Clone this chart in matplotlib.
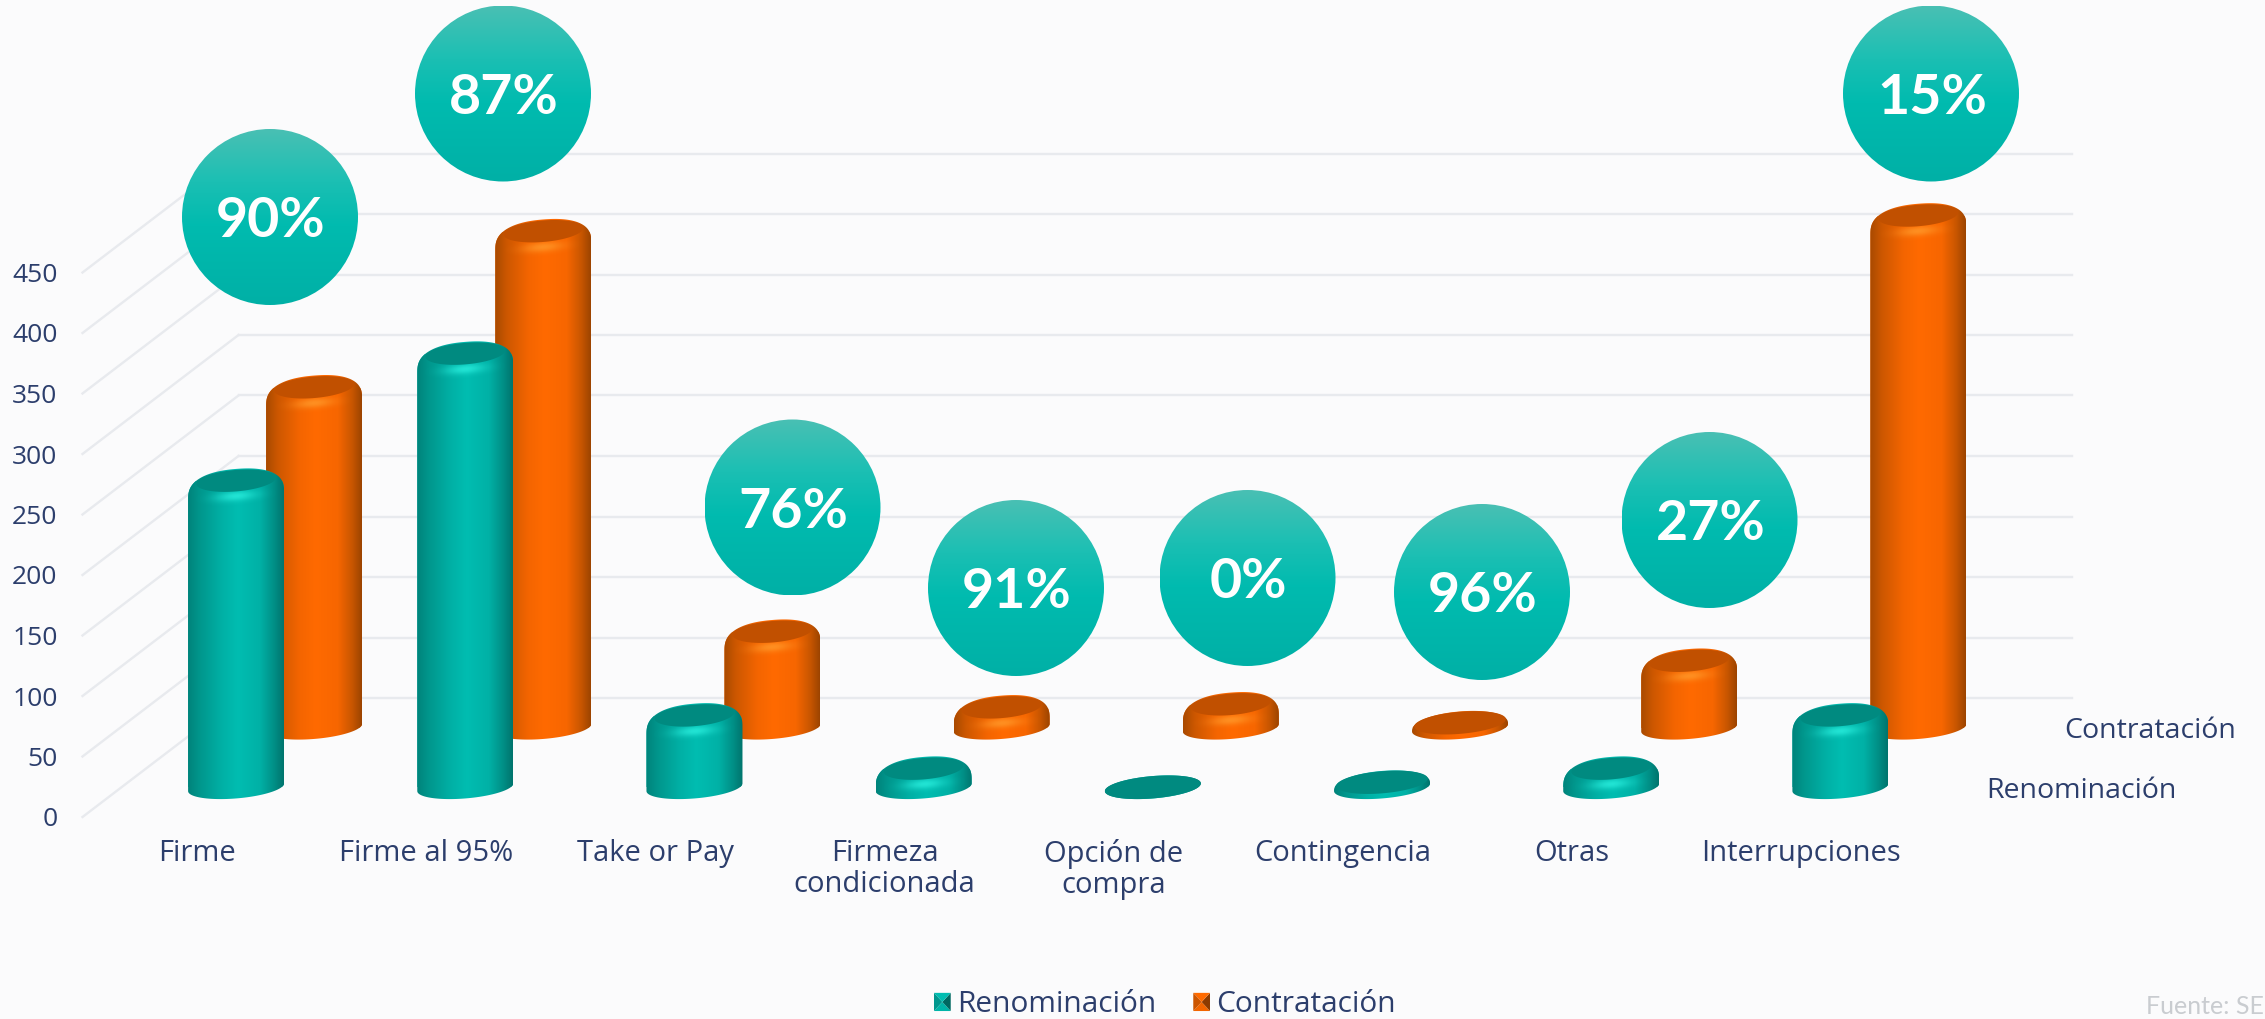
import numpy as np
import matplotlib
matplotlib.use("Agg")
import matplotlib.pyplot as plt
from matplotlib.colors import LinearSegmentedColormap, to_rgb
from matplotlib.patches import Patch, Polygon, Circle
from matplotlib.path import Path
from matplotlib.legend_handler import HandlerBase

# ---------- data ----------
categories = ["Firme", "Firme al 95%", "Take or Pay", "Firmeza\ncondicionada",
              "Opción de\ncompra", "Contingencia", "Otras", "Interrupciones"]
renominacion = [253, 358, 59, 15, 0, 4, 15, 59]
contratacion = [281, 410, 79, 16.5, 19, 4, 55, 423]
percent_labels = ["90%", "87%", "76%", "91%", "0%", "96%", "27%", "15%"]
y_ticks = [0, 50, 100, 150, 200, 250, 300, 350, 400, 450]
series_names = ["Renominación", "Contratación"]
source_text = "Fuente: SE"

# ---------- layout (pixels of the 2265x1019 picture) ----------
W, H = 2265, 1019
AX_L, AX_R, AX_B, AX_T = 82.5, 1916.0, 817.0, 272.5
PX_X = (AX_R - AX_L) / 8.0           # pixels per category
PX_Y = (AX_B - AX_T) / 450.0         # pixels per value unit
DEPTH_PX = (156.0, 119.0)            # floor depth on the picture
bubble_x_px = [270, 503, 792.5, 1016, 1247.5, 1482, 1709.5, 1931]
bubble_y_px = [217, 93.5, 507.5, 588, 578, 592, 520, 93.5]
BUBBLE_R = 88.0
A, B, SHEAR = 48.0, 11.2, 0.08       # cylinder half width / half height / tilt

BG = "#fbfbfc"
TXT = "#2c3e6c"
GRID = "#e8eaee"
plt.rcParams["font.family"] = ["Open Sans", "DejaVu Sans"]
FS = 20.5

fig = plt.figure(figsize=(W / 100, H / 100), dpi=100, facecolor=BG)
ax = fig.add_axes([AX_L / W, 1 - AX_B / H, (AX_R - AX_L) / W, (AX_B - AX_T) / H])
ax.set_facecolor("none")
for s in ax.spines.values():
    s.set_visible(False)

DX, DY = DEPTH_PX[0] / PX_X, DEPTH_PX[1] / PX_Y
x_pos = np.arange(len(categories))

# grid: back wall and side wall
for v in y_ticks:
    ax.plot([-0.5 + DX, 7.5 + DX], [v + DY, v + DY], color=GRID, lw=1.7, clip_on=False, zorder=1)
    ax.plot([-0.5, -0.5 + DX], [v, v + DY], color=GRID, lw=1.7, clip_on=False, zorder=1)

STYLES = {
    "teal": dict(
        cmap=LinearSegmentedColormap.from_list("t", [(0, "#00837b"), (0.12, "#00968c"), (0.35, "#00b0a5"),
                                                     (0.52, "#00bdb1"), (0.75, "#00b1a6"), (0.9, "#008f86"),
                                                     (1, "#00746d")]),
        top="#008a80", glow="#30f5e4", base="#00b0a5"),
    "orange": dict(
        cmap=LinearSegmentedColormap.from_list("o", [(0, "#a84a00"), (0.12, "#cc5700"), (0.35, "#f46500"),
                                                     (0.52, "#ff6a00"), (0.75, "#f76600"), (0.9, "#c85600"),
                                                     (1, "#9c4400")]),
        top="#c15000", glow="#ffa030", base="#f46500"),
}


def to_data(cx, base, px, py):
    return np.column_stack([cx + np.asarray(px) / PX_X, base + np.asarray(py) / PX_Y])


def silhouette(cx, base, h_px):
    R = min(15.0, h_px * 0.85)
    f = R / 15.0
    p = 1 - 0.28 * f
    q = 1 - 0.12 * f
    t1 = np.linspace(np.pi, 2 * np.pi, 60)
    bx = A * np.cos(t1)
    by = SHEAR * bx + B * np.sin(t1)
    t2 = np.linspace(0, np.pi, 90)
    c, s = np.cos(t2), np.sin(t2)
    tx = A * np.sign(c) * np.abs(c) ** q
    ty = h_px - R + SHEAR * tx + (B + R + f) * np.abs(s) ** p
    pts = to_data(cx, base, np.r_[bx, tx], np.r_[by, ty])
    return Path(np.vstack([pts, pts[0]]), closed=True), R


def draw_series(values, depth, style, z0, label):
    st = STYLES[style]
    bars = ax.bar(x_pos + depth * DX, values, bottom=depth * DY, width=2 * A / PX_X,
                  color=st["base"], clip_on=False, zorder=z0, label=label)
    for i, (v, bar) in enumerate(zip(values, bars)):
        cx, base = i + depth * DX, depth * DY
        h_px = v * PX_Y
        path, R = silhouette(cx, base, h_px)
        f = R / 15.0
        bar.set_clip_on(True)
        bar.set_clip_box(fig.bbox)
        bar.set_clip_path(path, ax.transData)
        # body: horizontal shading
        left, right = cx - A / PX_X, cx + A / PX_X
        low, high = base - 20 / PX_Y, base + (h_px + 20) / PX_Y
        im = ax.imshow(np.linspace(0, 1, 256).reshape(1, -1), cmap=st["cmap"], aspect="auto",
                       extent=[left, right, low, high], zorder=z0 + 0.1 + i * 0.01,
                       interpolation="bilinear")
        im.set_clip_box(fig.bbox)
        im.set_clip_path(path, ax.transData)
        # glow under the cap
        if R > 2:
            gx = np.linspace(-A, A, 120)
            gy = np.linspace(-14, 14, 60)
            X, Y = np.meshgrid(gx, gy)
            alpha = 0.7 * np.exp(-(X / 20.0) ** 2 - ((Y - SHEAR * X) / 5.0) ** 2) * f
            rgba = np.zeros(alpha.shape + (4,))
            rgba[..., :3] = to_rgb(st["glow"])
            rgba[..., 3] = alpha
            gc = h_px - 1.0 * R
            im2 = ax.imshow(rgba, aspect="auto", origin="lower",
                            extent=[left, right, base + (gc - 14) / PX_Y, base + (gc + 14) / PX_Y],
                            zorder=z0 + 0.2 + i * 0.01, interpolation="bilinear")
            im2.set_clip_box(fig.bbox)
            im2.set_clip_path(path, ax.transData)
        # top face
        k = 1 - 0.17 * f
        a_in, b_in = A * k, B * (1 - 0.04 * f)
        t = np.linspace(0, 2 * np.pi, 120)
        fx = a_in * np.cos(t)
        fy = h_px + (B - b_in) + SHEAR * fx + b_in * np.sin(t)
        poly = Polygon(to_data(cx, base, fx, fy), closed=True, facecolor=st["top"], edgecolor="none",
                       zorder=z0 + 0.3 + i * 0.01, clip_on=False)
        ax.add_patch(poly)


draw_series(contratacion, 0.75, "orange", 10, series_names[1])
draw_series(renominacion, 0.25, "teal", 20, series_names[0])

ax.set_xlim(-0.5, 7.5)
ax.set_ylim(0, 450)
ax.set_xticks(x_pos)
ax.set_xticklabels(categories, fontsize=21, color=TXT, linespacing=1.12)
ax.set_yticks(y_ticks)
ax.set_yticklabels([str(v) for v in y_ticks], fontsize=19, color=TXT)
ax.tick_params(axis="x", length=0, pad=15.5)
ax.tick_params(axis="y", length=0, pad=18)

# depth axis labels
for name, depth in zip(series_names, (0.25, 0.75)):
    ax.text(7.5 + depth * DX + 31 / PX_X, depth * DY - 3.5 / PX_Y, name, fontsize=20.5, color=TXT,
            ha="left", va="center", clip_on=False)


# legend with bevelled swatches
class BevelHandler(HandlerBase):
    def create_artists(self, legend, orig, xd, yd, w, h, fontsize, trans):
        L, Bt = -xd, -yd
        m = (L + w / 2, Bt + h / 2)
        c = orig.get_facecolor()
        r, g, b = c[:3]
        shade = lambda f: (r * f, g * f, b * f)
        corners = [(L, Bt), (L + w, Bt), (L + w, Bt + h), (L, Bt + h)]
        fs = [0.95, 0.55, 1.0, 0.8]
        out = []
        for j in range(4):
            p = Polygon([corners[j], corners[(j + 1) % 4], m], closed=True, facecolor=shade(fs[j]),
                        edgecolor="none", transform=trans)
            out.append(p)
        return out


handles = [Patch(facecolor="#00bdb1", label=series_names[0]), Patch(facecolor="#ff6a00", label=series_names[1])]
leg = fig.legend(handles=handles, loc="center left", bbox_to_anchor=(934 / W, 1 - 1005 / H),
                 ncol=2, frameon=False, labelcolor=TXT, borderpad=0, borderaxespad=0,
                 handlelength=0.56, handleheight=0.56, handletextpad=0.2, columnspacing=1.25,
                 handler_map={Patch: BevelHandler()}, prop={"size": 21.5})

fig.text(2264 / W, 1 - 1006 / H, source_text, fontsize=18, color="#c9ccd0", ha="right", va="center",
         family=["Lato", "DejaVu Sans"])

# percentage bubbles on a picture-sized overlay
ov = fig.add_axes([0, 0, 1, 1], facecolor="none")
ov.set_axis_off()
grad = LinearSegmentedColormap.from_list("b", [(0, "#49c0b4"), (0.3, "#1bbfb3"), (0.55, "#00bbaf"), (1, "#00b0a6")])
for lab, bx, by in zip(percent_labels, bubble_x_px, bubble_y_px):
    im = ov.imshow(np.linspace(0, 1, 256).reshape(-1, 1), cmap=grad, aspect="auto",
                   extent=[bx - BUBBLE_R, bx + BUBBLE_R, by + BUBBLE_R, by - BUBBLE_R], interpolation="bilinear")
    c = Circle((bx, by), BUBBLE_R, transform=ov.transData, facecolor="none", edgecolor="none")
    ov.add_patch(c)
    im.set_clip_path(c)
    ov.text(bx + 1, by + 4, lab, color="white", fontsize=40, fontweight="bold", ha="center", va="center",
            family=["Lato", "DejaVu Sans"])
ov.set_xlim(0, W)
ov.set_ylim(H, 0)

fig.savefig("out.png", dpi=100, facecolor=BG)
